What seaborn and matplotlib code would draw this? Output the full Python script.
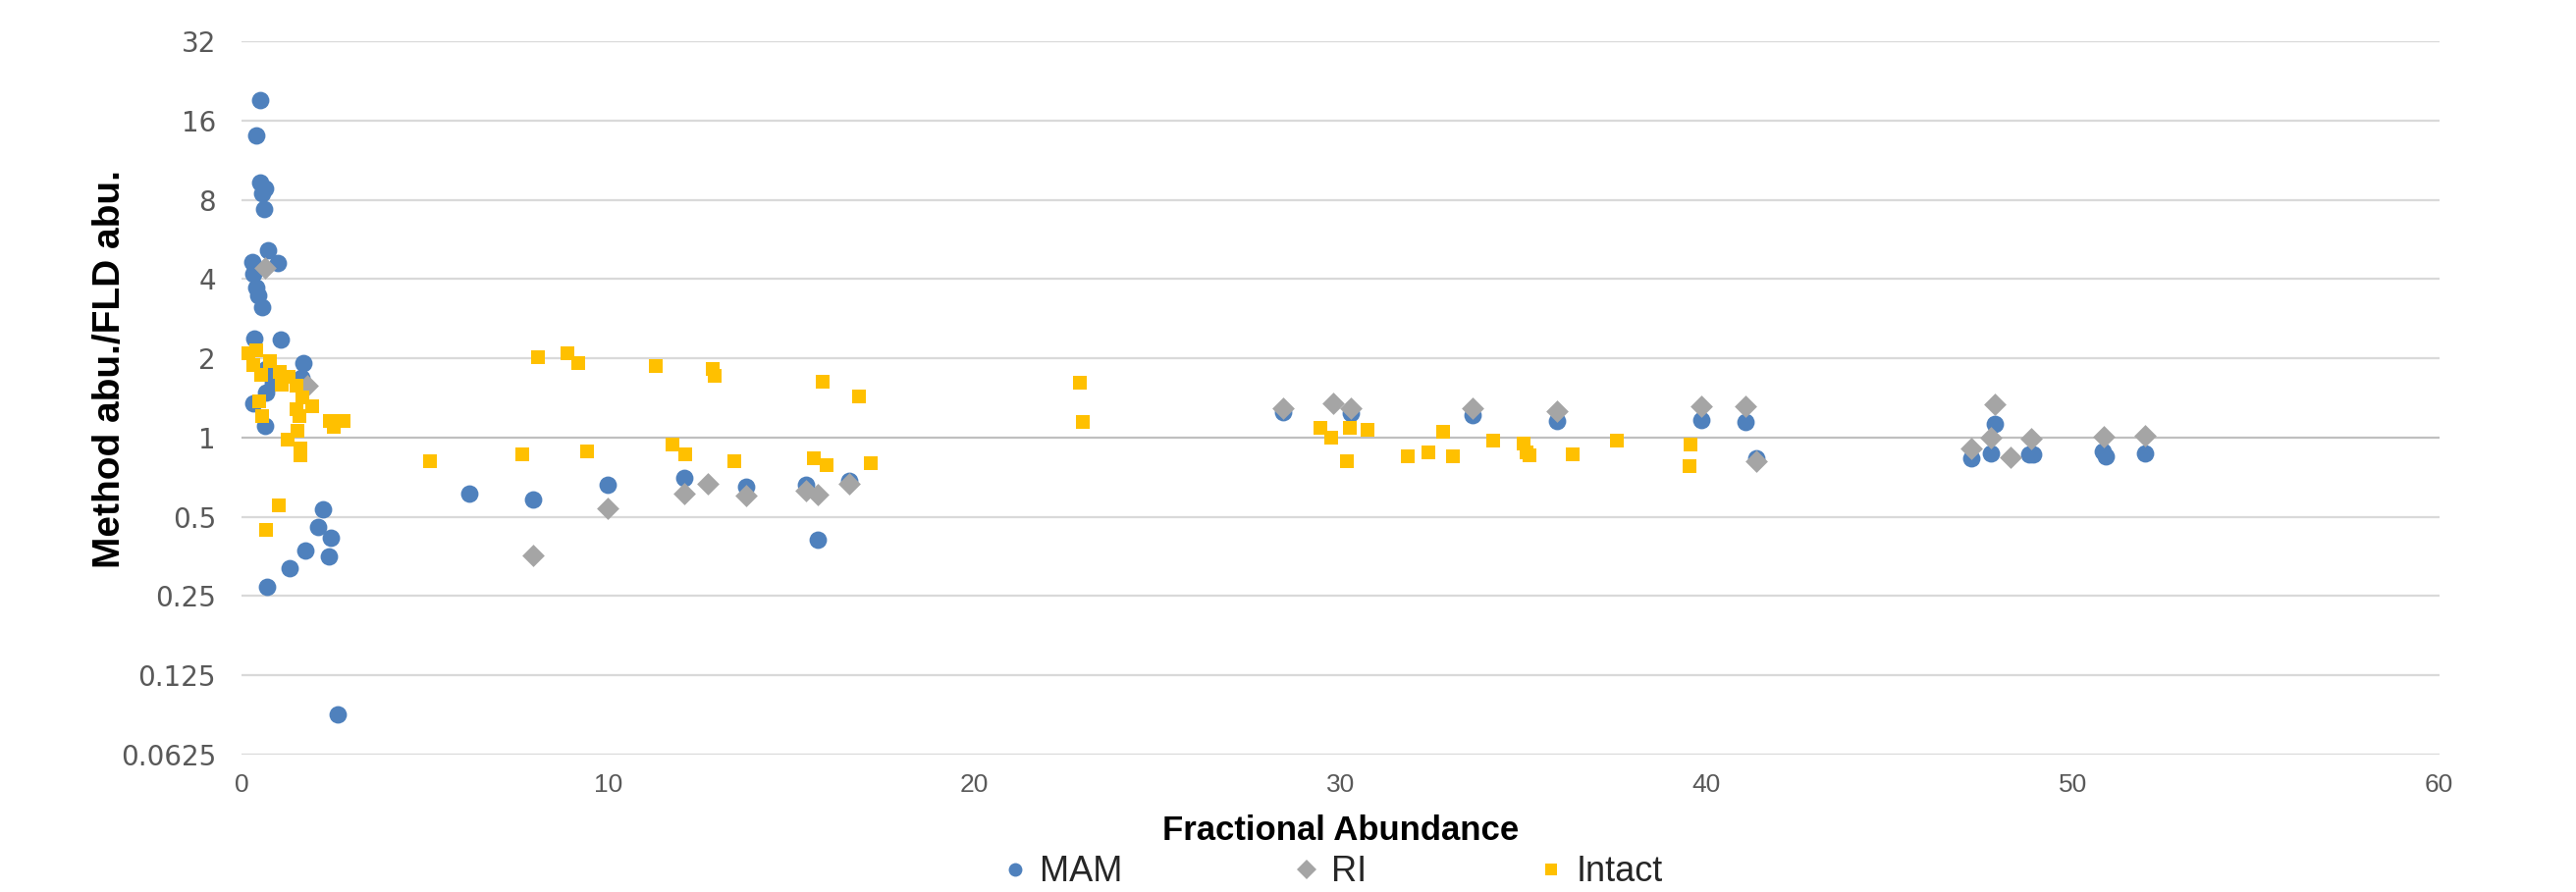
import numpy as np
import pandas as pd
import matplotlib
matplotlib.use("Agg")
import matplotlib.pyplot as plt
from matplotlib import font_manager
from matplotlib.ticker import FixedLocator, FixedFormatter
from matplotlib.lines import Line2D
import seaborn as sns

# ---------------- data ----------------
mam_x = [0.50, 0.38, 0.50, 0.63, 0.56, 0.61, 0.71, 0.29, 0.97, 0.32,
         0.39, 0.45, 0.54, 0.34, 1.05, 1.68, 0.65, 0.85, 0.67, 0.32,
         0.63, 1.61, 2.20, 2.09, 2.43, 1.72, 2.36, 1.30, 0.69, 2.61,
         6.20, 7.94, 9.99, 12.08, 13.77, 15.39, 15.72, 16.58,
         28.42, 30.27, 33.61, 35.90, 39.84, 41.07, 41.36,
         47.23, 47.86, 47.75, 48.80, 48.91, 50.81, 50.90, 51.97]
mam_y = [19.1, 14.0, 9.3, 8.86, 8.45, 7.4, 5.16, 4.66, 4.6, 4.19,
         3.7, 3.48, 3.14, 2.38, 2.36, 1.92, 1.82, 1.62, 1.48, 1.35,
         1.11, 1.69, 0.536, 0.458, 0.416, 0.372, 0.354, 0.32, 0.272, 0.089,
         0.615, 0.584, 0.661, 0.702, 0.651, 0.663, 0.41, 0.682,
         1.25, 1.24, 1.215, 1.16, 1.17, 1.15, 0.837,
         0.837, 1.125, 0.87, 0.862, 0.866, 0.887, 0.85, 0.874]

ri_x = [0.63, 1.79, 7.94, 9.99, 12.08, 12.72, 13.77, 15.39, 15.72, 16.58,
        28.42, 29.80, 30.27, 33.61, 35.90, 39.84, 41.07, 41.36,
        47.23, 47.86, 47.75, 48.29, 48.86, 50.85, 51.97]
ri_y = [4.42, 1.57, 0.357, 0.538, 0.612, 0.666, 0.603, 0.629, 0.608, 0.666,
        1.29, 1.35, 1.29, 1.29, 1.26, 1.31, 1.32, 0.814,
        0.912, 1.335, 1.0, 0.842, 0.99, 1.01, 1.015]

intact_x = [0.18, 0.39, 0.32, 0.76, 0.51, 1.03, 1.27, 1.08, 1.50, 1.64,
            0.46, 1.93, 1.50, 1.57, 0.54, 2.39, 2.77, 2.51, 1.51, 1.24,
            1.60, 1.60, 1.01, 0.65, 5.13, 8.08, 8.88, 9.19, 7.65, 9.42,
            11.29, 12.86, 12.90, 11.76, 12.11, 13.44, 15.86, 16.85, 15.61, 15.96,
            17.18, 22.88, 22.97, 29.46, 29.74, 30.26, 30.18, 30.73, 31.83, 32.41,
            32.79, 33.08, 34.16, 34.99, 35.07, 35.17, 36.34, 37.54, 39.56, 39.52]
intact_y = [2.09, 2.15, 1.89, 1.95, 1.73, 1.78, 1.70, 1.59, 1.58, 1.42,
            1.37, 1.32, 1.28, 1.21, 1.21, 1.16, 1.16, 1.10, 1.06, 0.98,
            0.91, 0.857, 0.553, 0.446, 0.814, 2.02, 2.09, 1.91, 0.862, 0.884,
            1.87, 1.82, 1.71, 0.944, 0.867, 0.812, 1.63, 1.43, 0.833, 0.786,
            0.802, 1.61, 1.15, 1.09, 1.0, 1.09, 0.816, 1.07, 0.85, 0.88,
            1.05, 0.85, 0.975, 0.952, 0.88, 0.855, 0.862, 0.975, 0.939, 0.782]

series_names = ["MAM", "RI", "Intact"]
y_ticks = [0.0625, 0.125, 0.25, 0.5, 1, 2, 4, 8, 16, 32]
y_tick_labels = ["0.0625", "0.125", "0.25", "0.5", "1", "2", "4", "8", "16", "32"]
x_ticks = [0, 10, 20, 30, 40, 50, 60]
x_tick_labels = ["0", "10", "20", "30", "40", "50", "60"]

# ---------------- style ----------------
sns.set_theme(style="white")
available = {f.name for f in font_manager.fontManager.ttflist}
narrow = "Liberation Sans Narrow" if "Liberation Sans Narrow" in available else "Liberation Sans"
plt.rcParams["font.family"] = ["DejaVu Sans"]

colors = {"MAM": "#4F81BD", "RI": "#A5A5A5", "Intact": "#FFC000"}
markers = {"MAM": "o", "RI": "D", "Intact": "s"}
sizes = {"MAM": 165, "RI": 135, "Intact": 100}

df = pd.concat([
    pd.DataFrame({"x": mam_x, "y": mam_y, "series": "MAM"}),
    pd.DataFrame({"x": ri_x, "y": ri_y, "series": "RI"}),
    pd.DataFrame({"x": intact_x, "y": intact_y, "series": "Intact"}),
], ignore_index=True)

W, H = 2624, 909
fig = plt.figure(figsize=(W / 100, H / 100), dpi=100)
left, right = 246.5 / W, 2484.5 / W
top_px, bot_px = 42, 769
ax = fig.add_axes([left, 1 - bot_px / H, right - left, (bot_px - top_px) / H])

for name in series_names:
    sub = df[df["series"] == name]
    sns.scatterplot(data=sub, x="x", y="y", ax=ax, color=colors[name],
                    marker=markers[name], s=sizes[name], linewidth=0,
                    zorder=3, legend=False)

ax.set_yscale("log", base=2)
ax.set_ylim(0.0625, 32)
ax.set_xlim(0, 60)
ax.yaxis.set_major_locator(FixedLocator(y_ticks))
ax.yaxis.set_major_formatter(FixedFormatter(y_tick_labels))
ax.yaxis.set_minor_locator(FixedLocator([]))
ax.set_xticks(x_ticks)
ax.set_xticklabels(x_tick_labels)

for v in y_ticks:
    ax.axhline(v, color="#BFBFBF" if v == 1 else "#D9D9D9", lw=1.6, zorder=1)

for s in ax.spines.values():
    s.set_visible(False)
ax.grid(False)
ax.tick_params(axis="both", length=0)
ax.tick_params(axis="y", pad=19, labelsize=20, labelcolor="#595959")
ax.tick_params(axis="x", pad=14, labelsize=19, labelcolor="#595959")
for t in ax.get_xticklabels():
    t.set_family(narrow)

ax.set_xlabel("Fractional Abundance", fontsize=25, fontweight="bold",
              family=narrow, color="black")
ax.xaxis.label.set_va("center")
ax.xaxis.set_label_coords(0.5, -(847 - bot_px) / (bot_px - top_px))
ax.set_ylabel("Method abu./FLD abu.", fontsize=28, fontweight="bold",
              family=narrow, color="black")
ax.yaxis.label.set_va("center")
ax.yaxis.set_label_coords(-(246.5 - 112) / (2484.5 - 246.5), (bot_px - 376) / (bot_px - top_px))

handles = [Line2D([], [], linestyle="none", marker=markers[n], color=colors[n],
                  markersize={"MAM": 10, "RI": 10, "Intact": 8}[n], markeredgewidth=0)
           for n in series_names]
leg = fig.legend(handles, series_names, loc="center", ncol=3, frameon=False,
                 bbox_to_anchor=(0.517, 1 - 889 / H), prop={"family": narrow, "size": 26},
                 handletextpad=0.3, columnspacing=4.8, handlelength=0.8)

fig.savefig("out.png", dpi=100)
